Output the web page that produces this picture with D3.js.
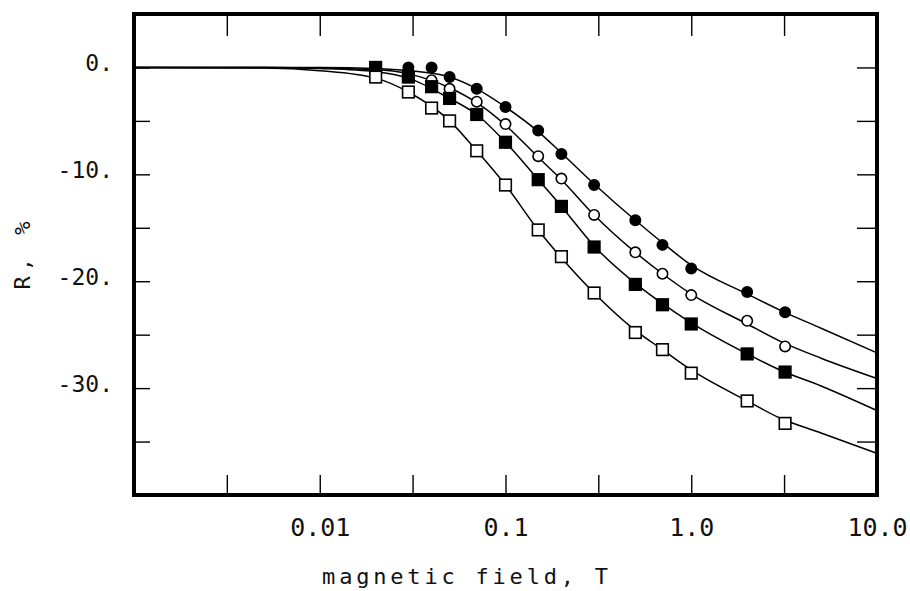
<!DOCTYPE html>
<html>
<head>
<meta charset="utf-8">
<script src="https://cdn.jsdelivr.net/npm/d3@7"></script>
<style>
  body { margin: 0; background: #fff; }
  .tick line { stroke: #000; stroke-width: 1.4; }
  .tick text { font-family: "DejaVu Sans Mono", monospace; fill: #111; }
  .title { font-family: "DejaVu Sans Mono", monospace; font-size: 22px; fill: #111; }
</style>
</head>
<body>
<div id="graph"></div>
<script>
// measured field values (T)
var ptX = [0.02, 0.03, 0.04, 0.05, 0.07, 0.1, 0.15, 0.2, 0.3, 0.5, 0.7, 1.0, 2.0, 3.2]
// R, % for the four samples (null = no point shown)
var filledCircle = [null, 0.0, 0.0, -0.9, -2.0, -3.7, -5.9, -8.1, -11.0, -14.3, -16.6, -18.8, -21.0, -22.9]
var openCircle   = [null, null, -1.2, -2.0, -3.2, -5.3, -8.3, -10.4, -13.8, -17.3, -19.3, -21.3, -23.7, -26.1]
var filledSquare = [0.0, -0.9, -1.8, -2.9, -4.4, -7.0, -10.5, -13.0, -16.8, -20.3, -22.2, -24.0, -26.8, -28.5]
var openSquare   = [-0.9, -2.3, -3.8, -5.0, -7.8, -11.0, -15.2, -17.7, -21.1, -24.8, -26.4, -28.6, -31.2, -33.3]

// fitted curves
var fitX = [0.001, 0.005, 0.01, 0.02, 0.03, 0.05, 0.07, 0.1, 0.15, 0.2, 0.3, 0.5, 0.7, 1, 2, 3, 5, 10]
var fitFilledCircle = [0, 0, 0, -0.1, -0.3, -0.9, -2.0, -3.7, -6.0, -8.0, -10.9, -14.3, -16.4, -18.5, -21.2, -22.7, -24.4, -26.7]
var fitOpenCircle   = [0, 0, -0.05, -0.2, -0.6, -1.9, -3.3, -5.4, -8.4, -10.5, -13.8, -17.3, -19.3, -21.2, -24.0, -25.6, -27.2, -29.1]
var fitFilledSquare = [0, 0, -0.1, -0.4, -1.0, -2.9, -4.4, -7.0, -10.5, -13.0, -16.7, -20.2, -22.1, -23.9, -26.8, -28.3, -29.8, -32.1]
var fitOpenSquare   = [0, -0.05, -0.3, -1.0, -2.3, -5.0, -7.8, -11.0, -15.2, -17.8, -21.1, -24.6, -26.4, -28.3, -31.2, -32.8, -34.2, -36.1]

var xTickVals = [0.00316, 0.01, 0.0316, 0.1, 0.316, 1, 3.16, 10]
var xTickLabels = {0.01: "0.01", 0.1: "0.1", 1: "1.0", 10: "10.0"}
var yTickVals = [-35, -30, -25, -20, -15, -10, -5, 0]
var yTickLabels = {0: "0.", "-10": "-10.", "-20": "-20.", "-30": "-30."}

var margin = {top: 14, right: 33, bottom: 96, left: 134}
var W = 910, H = 591
var width = W - margin.left - margin.right
var height = H - margin.top - margin.bottom

var svg = d3.select("#graph").append("svg")
    .attr("width", W)
    .attr("height", H)
  .append("g")
    .attr("transform", "translate(" + margin.left + "," + margin.top + ")")

var xScale = d3.scaleLog().domain([0.001, 10]).range([0, width])
var yScale = d3.scaleLinear().domain([-40, 5]).range([height, 0])

// bottom axis with labels
var gx = svg.append("g")
    .attr("transform", "translate(0," + height + ")")
    .call(d3.axisBottom(xScale).tickValues(xTickVals).tickSize(-20).tickPadding(23)
      .tickFormat(function(d) { return xTickLabels[d] || "" }))
gx.selectAll("text").style("font-size", "25px")
gx.select(".domain").remove()

// top ticks
var gxt = svg.append("g")
    .call(d3.axisTop(xScale).tickValues(xTickVals).tickSize(-22).tickFormat(""))
gxt.select(".domain").remove()

// left axis with labels
var gy = svg.append("g")
    .call(d3.axisLeft(yScale).tickValues(yTickVals).tickSize(-16).tickPadding(21)
      .tickFormat(function(d) { return yTickLabels[d] || "" }))
gy.selectAll("text").style("font-size", "23px").attr("dy", "0.14em")
gy.select(".domain").remove()

// right ticks
var gyr = svg.append("g")
    .attr("transform", "translate(" + width + ",0)")
    .call(d3.axisRight(yScale).tickValues(yTickVals).tickSize(-20).tickFormat(""))
gyr.select(".domain").remove()

// frame
svg.append("rect")
    .attr("x", 0).attr("y", 0)
    .attr("width", width).attr("height", height)
    .attr("fill", "none")
    .attr("stroke", "#000")
    .attr("stroke-width", 4)

var line = d3.line()
    .x(function(d) { return xScale(d[0]) })
    .y(function(d) { return yScale(d[1]) })
    .curve(d3.curveMonotoneX)

var fits = [fitFilledCircle, fitOpenCircle, fitFilledSquare, fitOpenSquare]
fits.forEach(function(f) {
  svg.append("path")
      .datum(fitX.map(function(x, i) { return [x, f[i]] }))
      .attr("fill", "none")
      .attr("stroke", "#000")
      .attr("stroke-width", 1.5)
      .attr("d", line)
})

var series = [
  {vals: filledCircle, shape: "circle", fill: "#000"},
  {vals: openCircle, shape: "circle", fill: "#fff"},
  {vals: filledSquare, shape: "square", fill: "#000"},
  {vals: openSquare, shape: "square", fill: "#fff"}
]

series.forEach(function(s) {
  var pts = ptX.map(function(x, i) { return [x, s.vals[i]] })
    .filter(function(p) { return p[1] != null })
  if (s.shape == "circle") {
    svg.selectAll(null)
        .data(pts)
      .enter().append("circle")
        .attr("cx", function(d) { return xScale(d[0]) })
        .attr("cy", function(d) { return yScale(d[1]) })
        .attr("r", 5.2)
        .attr("fill", s.fill)
        .attr("stroke", "#000")
        .attr("stroke-width", 1.6)
  } else {
    svg.selectAll(null)
        .data(pts)
      .enter().append("rect")
        .attr("x", function(d) { return xScale(d[0]) - 5.8 })
        .attr("y", function(d) { return yScale(d[1]) - 5.8 })
        .attr("width", 11.6)
        .attr("height", 11.6)
        .attr("fill", s.fill)
        .attr("stroke", "#000")
        .attr("stroke-width", 1.6)
  }
})

// axis titles
svg.append("text")
    .attr("class", "title")
    .attr("x", 467 - margin.left)
    .attr("y", 584 - margin.top)
    .attr("text-anchor", "middle")
    .style("letter-spacing", "3.8px")
    .text("magnetic field, T")

svg.append("text")
    .attr("class", "title")
    .attr("transform", "translate(" + (30 - margin.left) + "," + (253 - margin.top) + ") rotate(-90)")
    .attr("text-anchor", "middle")
    .style("letter-spacing", "5px")
    .text("R, %")
</script>
</body>
</html>
